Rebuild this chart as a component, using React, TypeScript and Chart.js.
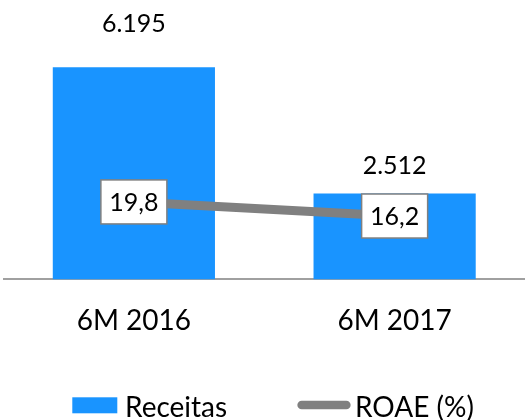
import React, { useEffect, useRef } from "react";
import { Chart, registerables } from "chart.js";

Chart.register(...registerables);

// ---- data ----
const categories = ["6M 2016", "6M 2017"];
const receitas = [6195, 2512];
const roae = [19.8, 16.2];
const seriesLabels = ["Receitas", "ROAE (%)"];

// ---- style ----
const FONT = "Lato, 'Open Sans', sans-serif";
const BLUE = "rgb(25,148,255)";
const GRAY = "#808080";
const TEXT = "#000000";

const fmtThousands = (v: number) =>
  String(Math.round(v)).replace(/\B(?=(\d{3})+(?!\d))/g, ".");
const fmtDecimal = (v: number) => v.toFixed(1).replace(".", ",");

// offsets (px) of bar value labels above bar tops
const barLabelOffsets = [43.5, 27];

const valueLabelsPlugin = {
  id: "valueLabels",
  afterDatasetsDraw(chart: any) {
    const ctx = chart.ctx;
    ctx.save();
    ctx.textAlign = "center";
    ctx.textBaseline = "middle";
    const barMeta = chart.getDatasetMeta(0);
    ctx.font = `25px ${FONT}`;
    ctx.fillStyle = TEXT;
    barMeta.data.forEach((el: any, i: number) => {
      const v = chart.data.datasets[0].data[i] as number;
      ctx.fillText(fmtThousands(v), el.x, el.y - barLabelOffsets[i]);
    });
    const lineMeta = chart.getDatasetMeta(1);
    const bw = 66;
    const bh = 44;
    lineMeta.data.forEach((el: any, i: number) => {
      const v = chart.data.datasets[1].data[i] as number;
      ctx.fillStyle = "#ffffff";
      ctx.fillRect(el.x - bw / 2, el.y - bh / 2, bw, bh);
      ctx.strokeStyle = GRAY;
      ctx.lineWidth = 1.5;
      ctx.strokeRect(el.x - bw / 2, el.y - bh / 2, bw, bh);
      ctx.fillStyle = TEXT;
      ctx.fillText(fmtDecimal(v), el.x, el.y + 1);
    });
    ctx.restore();
  },
};

const legendPlugin = {
  id: "customLegend",
  afterDraw(chart: any) {
    const ctx = chart.ctx;
    const ds = chart.data.datasets;
    ctx.save();
    ctx.font = `28px ${FONT}`;
    ctx.textBaseline = "alphabetic";
    ctx.textAlign = "left";
    ctx.fillStyle = ds[0].backgroundColor;
    ctx.fillRect(72.3, 397.3, 45, 16);
    ctx.fillStyle = TEXT;
    ctx.fillText(ds[0].label, 125, 416.7);
    ctx.strokeStyle = ds[1].borderColor;
    ctx.lineWidth = 8.7;
    ctx.lineCap = "round";
    ctx.beginPath();
    ctx.moveTo(301.7, 405);
    ctx.lineTo(346.3, 405);
    ctx.stroke();
    ctx.fillStyle = TEXT;
    ctx.fillText(ds[1].label, 355, 416.7);
    ctx.restore();
  },
};

export default function App() {
  const ref = useRef<HTMLCanvasElement>(null);
  useEffect(() => {
    document.body.style.margin = "0";
    const chart = new Chart(ref.current as HTMLCanvasElement, {
      type: "bar",
      data: {
        labels: categories,
        datasets: [
          {
            type: "bar",
            label: seriesLabels[0],
            data: receitas,
            backgroundColor: BLUE,
            borderWidth: 0,
            yAxisID: "y",
            order: 2,
            barPercentage: 0.622,
            categoryPercentage: 1,
          } as any,
          {
            type: "line",
            label: seriesLabels[1],
            data: roae,
            borderColor: GRAY,
            backgroundColor: GRAY,
            borderWidth: 9,
            pointRadius: 0,
            tension: 0,
            yAxisID: "y1",
            order: 1,
          } as any,
        ],
      },
      options: {
        responsive: false,
        animation: false,
        layout: { padding: { top: 5.5, left: 3.5, right: -5, bottom: 65 } },
        plugins: {
          legend: { display: false },
          tooltip: { enabled: false },
        },
        scales: {
          x: {
            z: 1,
            grid: { display: false },
            border: { display: true, color: "#a0a0a0", width: 2 },
            ticks: {
              color: TEXT,
              font: { family: FONT, size: 28 },
              padding: 17,
            },
          },
          y: { display: false, min: 0, max: 8000 },
          y1: { display: false, min: 0, max: 70, position: "right" },
        },
      } as any,
      plugins: [valueLabelsPlugin, legendPlugin],
    });
    return () => chart.destroy();
  }, []);
  return (
    <canvas
      ref={ref}
      width={525}
      height={420}
      style={{ display: "block", width: 525, height: 420 }}
    />
  );
}
